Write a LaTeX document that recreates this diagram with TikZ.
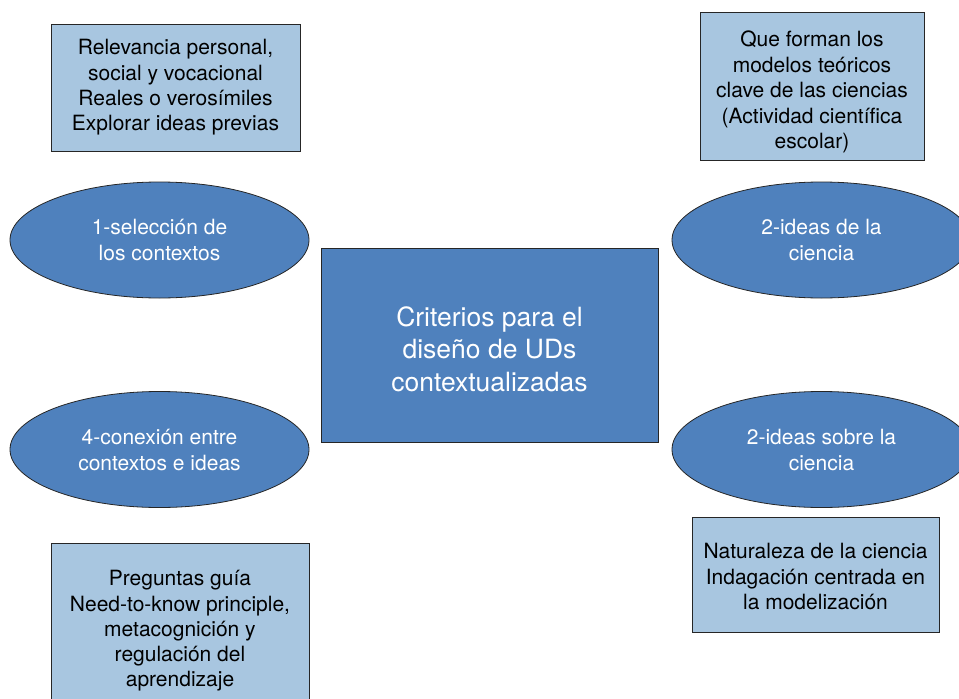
\documentclass[tikz,border=0pt]{standalone}
\usepackage{fontspec}
\setmainfont{TeX Gyre Heros}
\usetikzlibrary{shapes.geometric}
\definecolor{darkblue}{RGB}{79,129,189}
\definecolor{lightblue}{RGB}{168,198,224}
\tikzset{
  lightbox/.style={rectangle, draw=black!85, line width=0.8pt, fill=lightblue, inner sep=0pt, align=center, text=black, font=\fontsize{21}{25.3}\selectfont},
  oval/.style={ellipse, draw=black!85, line width=0.8pt, fill=darkblue, inner sep=0pt, align=center, text=white, minimum width=299pt, minimum height=116pt, font=\fontsize{21}{26}\selectfont},
  mainbox/.style={rectangle, draw=black!85, line width=0.8pt, fill=darkblue, inner sep=0pt, align=center, text=white, font=\fontsize{26.5}{32.5}\selectfont},
  txt/.style={inner sep=0pt, align=center}
}
\begin{document}
\begin{tikzpicture}[x=1pt,y=-1pt]
\useasboundingbox (0,0) rectangle (959,699);
\clip (0,0) rectangle (959,699);
\fill[white] (0,0) rectangle (959,699);
\node[lightbox, minimum width=249pt, minimum height=127pt] (ctx) at (175.5,87.5) {Relevancia personal,\\social y vocacional\\Reales o verosímiles\\Explorar ideas previas};
\node[lightbox, minimum width=224pt, minimum height=148pt] (mod) at (812,86) {};
\node[txt, font=\fontsize{21}{25.5}\selectfont] (modt) at ([yshift=-6pt]mod.center) {Que forman los\\modelos teóricos\\clave de las ciencias\\(Actividad científica\\escolar)};
\node[oval] (sel) at (159.5,240) {1-selección de\\los contextos};
\node[oval] (ide) at (821.5,240) {2-ideas de la\\ciencia};
\node[mainbox, minimum width=337pt, minimum height=194pt] (crit) at (489.5,345) {};
\node[txt, text=white, font=\fontsize{26.5}{32.5}\selectfont] (critt) at ([yshift=-4pt]crit.center) {Criterios para el\\diseño de UDs\\contextualizadas};
\node[oval] (con) at (159.5,449.5) {4-conexión entre\\contextos e ideas};
\node[oval] (sob) at (821.5,449.5) {2-ideas sobre la\\ciencia};
\node[lightbox, minimum width=247pt, minimum height=115pt] (nat) at (815.5,574.5) {};
\node[txt, font=\fontsize{21}{25.5}\selectfont] (natt) at ([yshift=-2pt]nat.center) {Naturaleza de la ciencia\\Indagación centrada en\\la modelización};
\node[lightbox, minimum width=258pt, minimum height=176pt] (preg) at (180,631) {Preguntas guía\\Need-to-know principle,\\metacognición y\\regulación del\\aprendizaje};
\end{tikzpicture}
\end{document}
